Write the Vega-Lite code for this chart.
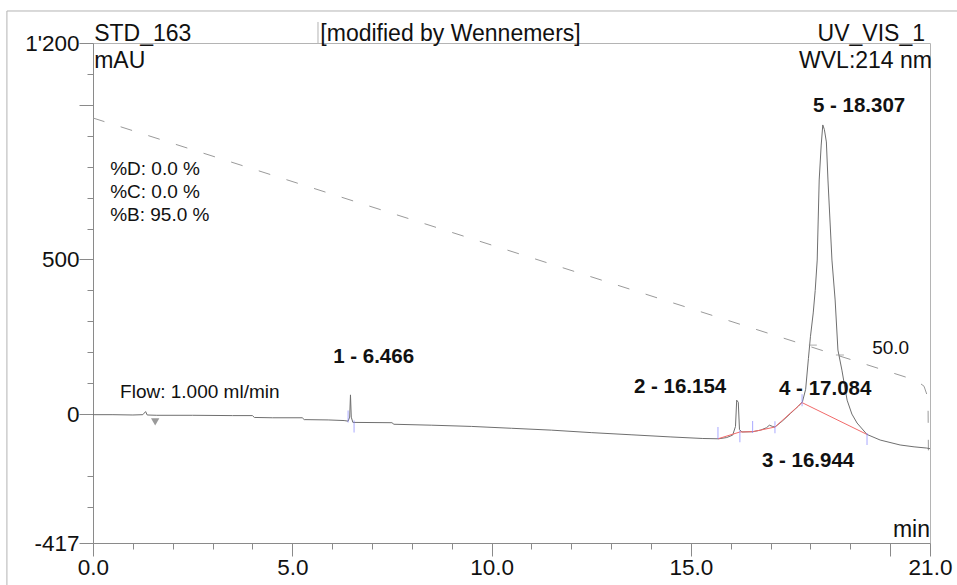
{
  "$schema": "https://vega.github.io/schema/vega-lite/v6.json",
  "width": 837,
  "height": 500,
  "autosize": {"type": "none"},
  "padding": {"left": 93, "top": 43, "right": 27, "bottom": 42},
  "background": "white",
  "config": {
    "font": "Liberation Sans",
    "view": {"stroke": "#b4b4b4", "strokeWidth": 1},
    "axis": {"grid": false, "labelFont": "Liberation Sans", "labelFontSize": 22.5, "labelColor": "#111111", "domainColor": "#8a8a8a", "tickColor": "#8a8a8a", "title": null}
  },
  "datasets": {
    "gradient": [
      {"t": 0, "pctB": 95},
      {"t": 20.65, "pctB": 50},
      {"t": 20.85, "pctB": 49},
      {"t": 20.95, "pctB": 47},
      {"t": 20.96, "pctB": 38}
    ],
    "trace": [
      {"t": 0.0, "v": -2}, {"t": 0.5, "v": -2}, {"t": 1.0, "v": -3}, {"t": 1.25, "v": -2},
      {"t": 1.32, "v": 8}, {"t": 1.36, "v": -3}, {"t": 1.6, "v": -4}, {"t": 2.5, "v": -4},
      {"t": 3.5, "v": -5}, {"t": 4.0, "v": -5}, {"t": 4.05, "v": -11}, {"t": 4.5, "v": -12},
      {"t": 5.25, "v": -12}, {"t": 5.3, "v": -18}, {"t": 5.9, "v": -19}, {"t": 6.3, "v": -21},
      {"t": 6.4, "v": -23}, {"t": 6.44, "v": -10}, {"t": 6.46, "v": 62}, {"t": 6.48, "v": -10},
      {"t": 6.52, "v": -27}, {"t": 7.5, "v": -28}, {"t": 7.55, "v": -33}, {"t": 8.5, "v": -36},
      {"t": 9.5, "v": -40}, {"t": 10.5, "v": -46}, {"t": 11.5, "v": -52}, {"t": 12.5, "v": -60},
      {"t": 13.5, "v": -67}, {"t": 14.5, "v": -74}, {"t": 15.3, "v": -79}, {"t": 15.7, "v": -80},
      {"t": 15.9, "v": -76}, {"t": 16.05, "v": -68}, {"t": 16.12, "v": -40}, {"t": 16.15, "v": 45},
      {"t": 16.19, "v": 38}, {"t": 16.22, "v": -50}, {"t": 16.28, "v": -58}, {"t": 16.55, "v": -57},
      {"t": 16.75, "v": -52}, {"t": 16.9, "v": -44}, {"t": 16.97, "v": -36}, {"t": 17.05, "v": -40},
      {"t": 17.11, "v": -42}, {"t": 17.3, "v": -22}, {"t": 17.5, "v": 2}, {"t": 17.7, "v": 26},
      {"t": 17.8, "v": 40}, {"t": 17.88, "v": 80}, {"t": 17.95, "v": 180}, {"t": 18.0, "v": 250},
      {"t": 18.07, "v": 327}, {"t": 18.12, "v": 400}, {"t": 18.17, "v": 498}, {"t": 18.22, "v": 757},
      {"t": 18.27, "v": 870}, {"t": 18.31, "v": 935}, {"t": 18.35, "v": 920}, {"t": 18.4, "v": 880},
      {"t": 18.44, "v": 757}, {"t": 18.54, "v": 498}, {"t": 18.62, "v": 369}, {"t": 18.69, "v": 207},
      {"t": 18.79, "v": 142}, {"t": 18.92, "v": 45}, {"t": 19.04, "v": 0}, {"t": 19.17, "v": -29},
      {"t": 19.42, "v": -66}, {"t": 19.75, "v": -84}, {"t": 20.25, "v": -100}, {"t": 20.6, "v": -106},
      {"t": 20.92, "v": -110}, {"t": 21.0, "v": -112}
    ],
    "baseline": [
      {"t": 15.68, "v": -80}, {"t": 16.23, "v": -58}, {"t": 16.56, "v": -57},
      {"t": 17.11, "v": -42}, {"t": 17.79, "v": 37}, {"t": 19.42, "v": -66}
    ],
    "markers": [
      {"t": 6.4, "v": -8}, {"t": 6.55, "v": -40}, {"t": 15.68, "v": -61}, {"t": 16.23, "v": -72},
      {"t": 16.55, "v": -42}, {"t": 17.11, "v": -43}, {"t": 17.79, "v": 45}, {"t": 19.42, "v": -81}
    ],
    "halfheight": [{"t": 18.06, "v": 223}, {"t": 18.74, "v": 191}],
    "events": [{"t": 1.56, "v": -25, "event": "Flow"}],
    "frame": [
      {"t": -2.16, "v": 1303.5, "t2": -2.16, "v2": -560},
      {"t": -2.16, "v": 1303.5, "t2": 23, "v2": 1303.5},
      {"t": 5.645, "v": 1268, "t2": 5.645, "v2": 1200}
    ],
    "labels": [
      {"text": "STD_163", "t": 0.03, "v": 1206.5, "group": "head-left"},
      {"text": "mAU", "t": 0.03, "v": 1119, "group": "head-left"},
      {"text": "[modified by Wennemers]", "t": 8.97, "v": 1206.5, "group": "head-center"},
      {"text": "UV_VIS_1", "t": 20.875, "v": 1206.5, "group": "head-right"},
      {"text": "WVL:214 nm", "t": 21.05, "v": 1119, "group": "head-right"},
      {"text": "min", "t": 21.0, "v": -397.6, "group": "head-right"},
      {"text": "%D: 0.0 %", "t": 0.43, "v": 773, "group": "note"},
      {"text": "%C: 0.0 %", "t": 0.43, "v": 699, "group": "note"},
      {"text": "%B: 95.0 %", "t": 0.43, "v": 624, "group": "note"},
      {"text": "Flow: 1.000 ml/min", "t": 0.68, "v": 52, "group": "note"},
      {"text": "50.0", "t": 19.55, "v": 194, "group": "note"},
      {"text": "1 - 6.466", "t": 7.04, "v": 165, "group": "peak"},
      {"text": "2 - 16.154", "t": 14.73, "v": 68, "group": "peak"},
      {"text": "3 - 16.944", "t": 17.94, "v": -171, "group": "peak"},
      {"text": "4 - 17.084", "t": 18.37, "v": 62, "group": "peak"},
      {"text": "5 - 18.307", "t": 19.22, "v": 977, "group": "peak"}
    ]
  },
  "layer": [
    {
      "data": {"name": "gradient"},
      "mark": {"type": "line", "stroke": "#9a9a9a", "strokeWidth": 1, "strokeDash": [12, 17]},
      "encoding": {
        "x": {"field": "t", "type": "quantitative", "scale": {"domain": [0, 21], "nice": false, "zero": false}, "axis": null},
        "y": {"field": "pctB", "type": "quantitative", "scale": {"domain": [22.11, 107.86], "nice": false, "zero": false}, "axis": null}
      }
    },
    {
      "data": {"name": "trace"},
      "mark": {"type": "line", "stroke": "#6f6f6f", "strokeWidth": 1},
      "encoding": {
        "x": {"field": "t", "type": "quantitative", "scale": {"domain": [0, 21], "nice": false, "zero": false},
          "axis": {"orient": "bottom", "values": [0, 5, 10, 15, 20, 21], "labelExpr": "datum.value == 20 ? '' : format(datum.value, '.1f')", "tickSize": 13, "labelPadding": 0, "labelFlush": false, "labelOverlap": false, "title": null}},
        "y": {"field": "v", "type": "quantitative", "scale": {"domain": [-417, 1200], "nice": false, "zero": false},
          "axis": {"orient": "left", "values": [-417, 0, 500, 1000, 1200], "labelExpr": "datum.value == 1200 ? \"1'200\" : (datum.value == 1000 ? '' : (datum.value == -417 ? '-417' : datum.label))", "tickSize": 14, "labelPadding": 0, "labelFlush": false, "labelOverlap": false, "title": null}}
      }
    },
    {
      "data": {"name": "baseline"},
      "mark": {"type": "line", "stroke": "#f26a6a", "strokeWidth": 1},
      "encoding": {
        "x": {"field": "t", "type": "quantitative", "scale": {"domain": [0, 21], "nice": false, "zero": false},
          "axis": {"orient": "bottom", "values": [1, 2, 3, 4, 6, 7, 8, 9, 11, 12, 13, 14, 16, 17, 18, 19], "tickSize": 6, "labels": false, "domain": false, "title": null}},
        "y": {"field": "v", "type": "quantitative", "scale": {"domain": [-417, 1200], "nice": false, "zero": false},
          "axis": {"orient": "left", "values": [-300, -200, 100, 200, 300, 400, 600, 700, 800, 900, 1100], "tickSize": 6, "labels": false, "domain": false, "title": null}}
      }
    },
    {
      "data": {"name": "markers"},
      "mark": {"type": "tick", "orient": "vertical", "size": 12, "thickness": 1, "color": "#8585ff"},
      "encoding": {
        "x": {"field": "t", "type": "quantitative", "scale": {"domain": [0, 21], "nice": false, "zero": false}, "axis": null},
        "y": {"field": "v", "type": "quantitative", "scale": {"domain": [-417, 1200], "nice": false, "zero": false}, "axis": null}
      }
    },
    {
      "data": {"name": "halfheight"},
      "mark": {"type": "tick", "orient": "horizontal", "size": 8, "thickness": 1, "color": "#8a8a8a"},
      "encoding": {
        "x": {"field": "t", "type": "quantitative", "scale": {"domain": [0, 21], "nice": false, "zero": false}, "axis": null},
        "y": {"field": "v", "type": "quantitative", "scale": {"domain": [-417, 1200], "nice": false, "zero": false}, "axis": null}
      }
    },
    {
      "data": {"name": "events"},
      "mark": {"type": "point", "shape": "triangle-down", "filled": true, "size": 70, "color": "#9a9a9a", "opacity": 1},
      "encoding": {
        "x": {"field": "t", "type": "quantitative", "scale": {"domain": [0, 21], "nice": false, "zero": false}, "axis": null},
        "y": {"field": "v", "type": "quantitative", "scale": {"domain": [-417, 1200], "nice": false, "zero": false}, "axis": null}
      }
    },
    {
      "data": {"name": "frame"},
      "mark": {"type": "rule", "color": "#b4b4b4", "strokeWidth": 1, "clip": false},
      "encoding": {
        "x": {"field": "t", "type": "quantitative", "scale": {"domain": [0, 21], "nice": false, "zero": false}, "axis": null},
        "x2": {"field": "t2"},
        "y": {"field": "v", "type": "quantitative", "scale": {"domain": [-417, 1200], "nice": false, "zero": false}, "axis": null},
        "y2": {"field": "v2"}
      }
    },
    {
      "data": {"name": "labels"},
      "transform": [{"filter": "datum.group == 'head-left'"}],
      "mark": {"type": "text", "align": "left", "baseline": "alphabetic", "fontSize": 23, "color": "#111111"},
      "encoding": {
        "x": {"field": "t", "type": "quantitative", "scale": {"domain": [0, 21], "nice": false, "zero": false}, "axis": null},
        "y": {"field": "v", "type": "quantitative", "scale": {"domain": [-417, 1200], "nice": false, "zero": false}, "axis": null},
        "text": {"field": "text"}
      }
    },
    {
      "data": {"name": "labels"},
      "transform": [{"filter": "datum.group == 'head-center'"}],
      "mark": {"type": "text", "align": "center", "baseline": "alphabetic", "fontSize": 23, "color": "#111111"},
      "encoding": {
        "x": {"field": "t", "type": "quantitative", "scale": {"domain": [0, 21], "nice": false, "zero": false}, "axis": null},
        "y": {"field": "v", "type": "quantitative", "scale": {"domain": [-417, 1200], "nice": false, "zero": false}, "axis": null},
        "text": {"field": "text"}
      }
    },
    {
      "data": {"name": "labels"},
      "transform": [{"filter": "datum.group == 'head-right'"}],
      "mark": {"type": "text", "align": "right", "baseline": "alphabetic", "fontSize": 23, "color": "#111111"},
      "encoding": {
        "x": {"field": "t", "type": "quantitative", "scale": {"domain": [0, 21], "nice": false, "zero": false}, "axis": null},
        "y": {"field": "v", "type": "quantitative", "scale": {"domain": [-417, 1200], "nice": false, "zero": false}, "axis": null},
        "text": {"field": "text"}
      }
    },
    {
      "data": {"name": "labels"},
      "transform": [{"filter": "datum.group == 'note'"}],
      "mark": {"type": "text", "align": "left", "baseline": "alphabetic", "fontSize": 19, "color": "#111111"},
      "encoding": {
        "x": {"field": "t", "type": "quantitative", "scale": {"domain": [0, 21], "nice": false, "zero": false}, "axis": null},
        "y": {"field": "v", "type": "quantitative", "scale": {"domain": [-417, 1200], "nice": false, "zero": false}, "axis": null},
        "text": {"field": "text"}
      }
    },
    {
      "data": {"name": "labels"},
      "transform": [{"filter": "datum.group == 'peak'"}],
      "mark": {"type": "text", "align": "center", "baseline": "alphabetic", "fontSize": 20.5, "fontWeight": "bold", "color": "#111111"},
      "encoding": {
        "x": {"field": "t", "type": "quantitative", "scale": {"domain": [0, 21], "nice": false, "zero": false}, "axis": null},
        "y": {"field": "v", "type": "quantitative", "scale": {"domain": [-417, 1200], "nice": false, "zero": false}, "axis": null},
        "text": {"field": "text"}
      }
    }
  ],
  "resolve": {"scale": {"y": "independent"}, "axis": {"x": "independent", "y": "independent"}}
}
